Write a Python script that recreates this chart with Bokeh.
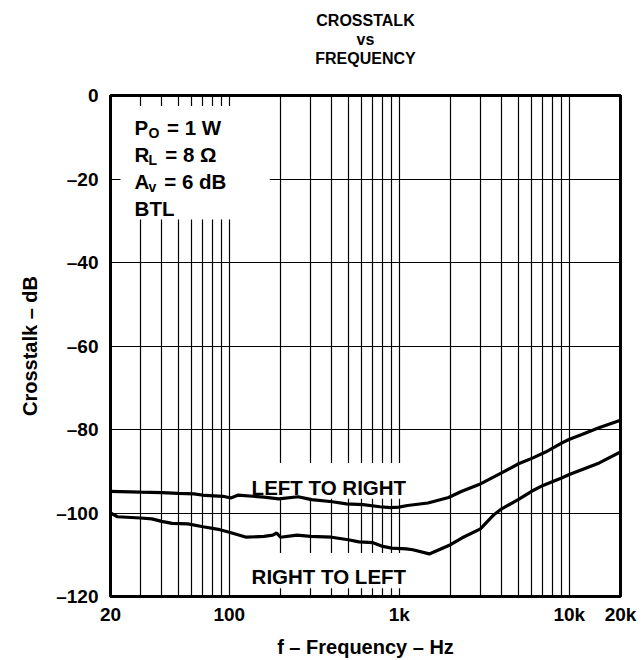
from bokeh.plotting import figure
from bokeh.models import Range1d, FixedTicker, Label, Title
from bokeh.embed import file_html
from bokeh.resources import INLINE

# ---- data ----
freq_l2r = [20, 30, 40, 50, 62, 72, 92, 102, 113, 160, 195, 254, 305, 404, 488, 612,
            769, 885, 995, 1118, 1474, 1948, 2332, 2944, 3994, 5030, 6110, 7248,
            9055, 9940, 11850, 14920, 20000]
db_l2r = [-94.8, -95.0, -95.1, -95.3, -95.4, -95.8, -96.0, -96.4, -95.7, -96.2, -96.6,
          -96.1, -96.8, -97.3, -97.8, -98.0, -98.5, -98.7, -98.6, -98.2, -97.6, -96.3,
          -94.8, -93.2, -90.4, -88.2, -86.8, -85.4, -83.2, -82.4, -81.2, -79.6, -77.8]

freq_r2l = [20, 22, 30, 35, 40, 46, 57, 70, 88, 100, 126, 160, 180, 190, 200, 250, 300,
            400, 500, 580, 700, 800, 900, 1100, 1200, 1500, 2000, 2330, 3000, 3600,
            4000, 5000, 6000, 7000, 9000, 10000, 15000, 20000]
db_r2l = [-100.0, -100.9, -101.2, -101.4, -102.0, -102.5, -102.6, -103.3, -104.0, -104.6,
          -105.8, -105.6, -105.3, -104.8, -105.8, -105.3, -105.6, -105.8, -106.4, -106.9,
          -107.1, -108.0, -108.4, -108.6, -108.8, -109.8, -107.6, -106.0, -103.8, -100.4,
          -99.0, -96.8, -94.8, -93.4, -91.6, -90.8, -88.0, -85.4]

x_ticks = [20, 100, 1000, 10000, 20000]
x_tick_labels = ["20", "100", "1k", "10k", "20k"]
x_minor = [30, 40, 50, 60, 70, 80, 90,
           200, 300, 400, 500, 600, 700, 800, 900,
           2000, 3000, 4000, 5000, 6000, 7000, 8000, 9000]
y_ticks = [0, -20, -40, -60, -80, -100, -120]
y_tick_labels = ["0", "\u201320", "\u201340", "\u201360", "\u201380", "\u2013100", "\u2013120"]

FONT = "Liberation Sans"

p = figure(width=644, height=660, x_axis_type="log", title=None,
           x_range=Range1d(20, 20000), y_range=Range1d(-120, 0),
           output_backend="svg", toolbar_location=None,
           min_border_left=110, min_border_right=24,
           min_border_top=95, min_border_bottom=63)
p.background_fill_color = "white"
p.border_fill_color = "white"
p.outline_line_color = "black"
p.outline_line_width = 3

# stacked title lines (first added sits closest to the frame); the first is a blank spacer
for txt, so in ((" ", 9), ("FREQUENCY", 0), ("vs", 0), ("CROSSTALK", 0)):
    p.add_layout(Title(text=txt, align="center", vertical_align="middle",
                       standoff=so,
                       text_font=FONT, text_font_style="bold",
                       text_font_size="16px", text_color="black"), "above")

xt = FixedTicker(ticks=x_ticks, minor_ticks=x_minor)
yt = FixedTicker(ticks=y_ticks)
for ax, tk, labs in ((p.xaxis[0], xt, x_tick_labels), (p.yaxis[0], yt, y_tick_labels)):
    ax.ticker = tk
    ax.major_label_overrides = dict(zip(tk.ticks, labs))
    ax.axis_line_color = None
    ax.major_tick_line_color = None
    ax.minor_tick_line_color = None
    ax.major_label_text_font = FONT
    ax.major_label_text_font_style = "bold"
    ax.major_label_text_font_size = "19px"
    ax.major_label_text_color = "black"
    ax.axis_label_text_font = FONT
    ax.axis_label_text_font_style = "bold"
    ax.axis_label_text_font_size = "20px"
    ax.axis_label_text_color = "black"

p.xaxis[0].axis_label = "f \u2013 Frequency \u2013 Hz"
p.xaxis[0].major_label_standoff = 1
p.xaxis[0].axis_label_standoff = 8
p.yaxis[0].axis_label = "Crosstalk \u2013 dB"
p.yaxis[0].major_label_standoff = 6
p.yaxis[0].axis_label_standoff = 12

p.xgrid.ticker = xt
p.ygrid.ticker = yt
for g in (p.xgrid, p.ygrid):
    g.grid_line_color = "black"
    g.grid_line_width = 1.2
p.xgrid.minor_grid_line_color = "black"
p.xgrid.minor_grid_line_width = 1.2

# white panels behind the annotation texts (hide the grid there)
mask_left = [22.9, 140, 140]
mask_right = [173, 1060, 1060]
mask_top = [-2.5, -88.0, -109.6]
mask_bottom = [-29.7, -96.6, -118.0]
p.quad(left=mask_left, right=mask_right, top=mask_top, bottom=mask_bottom,
       fill_color="white", line_color=None)

p.line(freq_l2r, db_l2r, line_color="black", line_width=3.2)
p.line(freq_r2l, db_r2l, line_color="black", line_width=3.2)


def lab(text, x, y, size="20.5px", align="left", baseline="alphabetic", xoff=0):
    p.add_layout(Label(x=x, y=y, text=text, x_offset=xoff,
                       text_font=FONT, text_font_style="bold",
                       text_font_size=size, text_align=align,
                       text_baseline=baseline, text_color="black"))


# conditions box
lab("P", 20, -7.75, xoff=24.1)
lab("O", 20, -8.95, size="14px", xoff=38.1)
lab("= 1 W", 20, -7.75, xoff=56.5)
lab("R", 20, -14.2, xoff=24.1)
lab("L", 20, -15.4, size="14px", xoff=38.1)
lab("= 8 \u03a9", 20, -14.2, xoff=54.8)
lab("A", 20, -20.6, xoff=24.1)
lab("v", 20, -21.8, size="14px", xoff=38.1)
lab("= 6 dB", 20, -20.6, xoff=53.8)
lab("BTL", 20, -27.0, xoff=24.1)

# curve labels
lab("LEFT TO RIGHT", 385, -94.0, align="center")
lab("RIGHT TO LEFT", 385, -115.2, align="center")

open("out.html", "w").write(file_html(p, INLINE))
